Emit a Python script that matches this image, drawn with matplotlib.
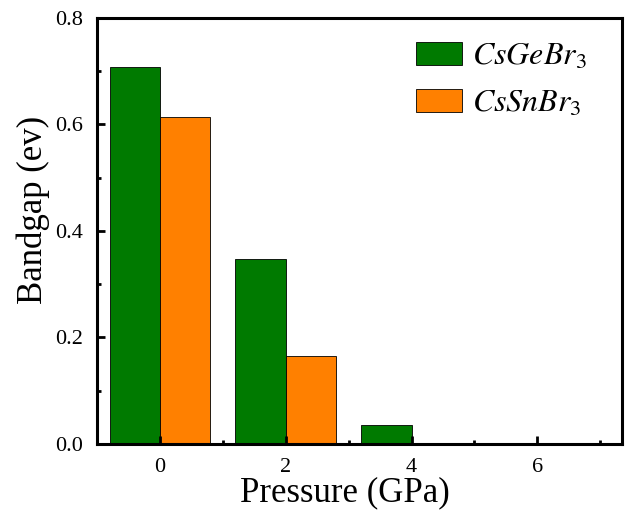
import matplotlib
matplotlib.use("Agg")
import matplotlib.pyplot as plt
from matplotlib.ticker import MultipleLocator, FormatStrFormatter
import numpy as np

pressure = [0, 2, 4, 6]
gap_ge = [0.708, 0.347, 0.036, 0.0]
gap_sn = [0.614, 0.165, 0.0, 0.0]
labels = [r"$CsGeBr_3$", r"$CsSnBr_3$"]

plt.rcParams["font.family"] = "Liberation Serif"
plt.rcParams["mathtext.fontset"] = "stix"

fig = plt.figure(figsize=(6.26, 5.12), dpi=100)
ax = fig.add_axes([0.155, 0.133, 0.839, 0.832])

x = np.asarray(pressure, dtype=float)
w = 0.8
ax.bar(x - w / 2, gap_ge, width=w, color="#007a00", edgecolor="black",
       linewidth=0.6, label=labels[0])
ax.bar(x + w / 2, gap_sn, width=w, color="#ff8000", edgecolor="black",
       linewidth=0.6, label=labels[1])

ax.set_xlim(-1, 7.35)
ax.set_ylim(0, 0.8)
ax.xaxis.set_major_locator(MultipleLocator(2))
ax.xaxis.set_minor_locator(MultipleLocator(1))
ax.yaxis.set_major_locator(MultipleLocator(0.2))
ax.yaxis.set_minor_locator(MultipleLocator(0.1))
ax.yaxis.set_major_formatter(FormatStrFormatter("%.1f"))

ax.tick_params(which="both", direction="in", top=False, right=False,
               width=2, labelsize=16)
ax.tick_params(which="major", length=6, pad=10)
ax.tick_params(which="minor", length=3)
for s in ax.spines.values():
    s.set_linewidth(2.2)

ax.set_xlabel("Pressure (GPa)", fontsize=25)
ax.set_ylabel("Bandgap (ev)", fontsize=25)
ax.xaxis.set_label_coords(0.472, -0.075)
ax.yaxis.set_label_coords(-0.089, 0.55)

ax.legend(loc="upper right", frameon=False, fontsize=23,
          handlelength=1.45, handleheight=0.7, handletextpad=0.3,
          labelspacing=0.55, borderaxespad=0.3,
          bbox_to_anchor=(0.975, 0.995))

fig.savefig("out.png", dpi=100)
